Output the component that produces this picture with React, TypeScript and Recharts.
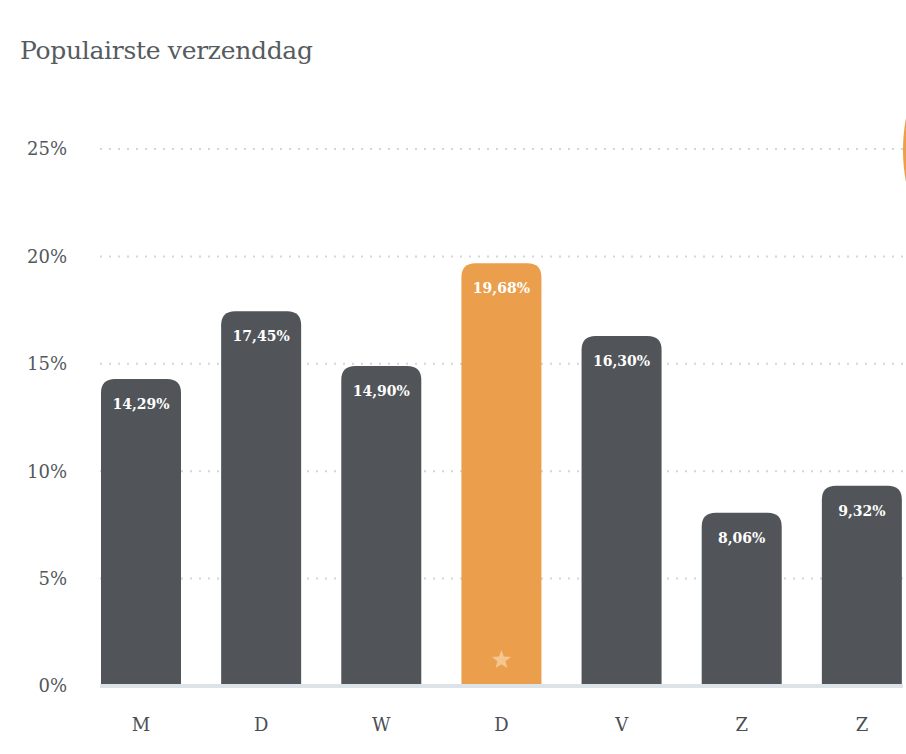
import React from "react";
import { BarChart, Bar, XAxis, YAxis, CartesianGrid, LabelList } from "recharts";

const days = ["M", "D", "W", "D", "V", "Z", "Z"];
const shares = [14.29, 17.45, 14.9, 19.68, 16.3, 8.06, 9.32];
const highlighted = [false, false, false, true, false, false, false];
const yTicks = [0, 5, 10, 15, 20, 25];

const data = days.map((d, i) => ({ day: d, value: shares[i], hl: highlighted[i] }));

const FONT = "'DejaVu Serif', 'Liberation Serif', serif";
const DARK = "#515559";
const ORANGE = "#eb9f4c";

const starPoints = (cx: number, cy: number, ro: number, ri: number) => {
  const pts: string[] = [];
  for (let k = 0; k < 10; k++) {
    const r = k % 2 === 0 ? ro : ri;
    const a = -Math.PI / 2 + (k * Math.PI) / 5;
    pts.push(`${cx + r * Math.cos(a)},${cy + r * Math.sin(a)}`);
  }
  return pts.join(" ");
};

const BarShape = (props: any) => {
  const { x, y, width, height, payload } = props;
  const r = Math.min(14, height);
  const path = `M${x},${y + height} L${x},${y + r} Q${x},${y} ${x + r},${y} L${x + width - r},${y} Q${x + width},${y} ${x + width},${y + r} L${x + width},${y + height} Z`;
  const fill = payload && payload.hl ? ORANGE : DARK;
  return (
    <g>
      <path d={path} fill={fill} />
      {payload && payload.hl ? (
        <polygon points={starPoints(x + width / 2, y + height - 26, 10, 4.2)} fill="#f6c690" />
      ) : null}
    </g>
  );
};

const fmt = (v: any) => `${Number(v).toFixed(2).replace(".", ",")}%`;

export default function App() {
  return (
    <div style={{ position: "absolute", left: 0, top: 0, width: 906, height: 754, overflow: "hidden", background: "#fff" }}>
      <div
        style={{
          position: "absolute",
          left: 20,
          top: 37,
          fontFamily: FONT,
          fontSize: 25,
          lineHeight: "28px",
          color: "#565b60",
          letterSpacing: -0.3,
        }}
      >
        Populairste verzenddag
      </div>
      <div
        style={{
          position: "absolute",
          left: 903,
          top: 65,
          width: 80,
          height: 170,
          borderRadius: "50%",
          background: ORANGE,
        }}
      />
      <BarChart
        width={906}
        height={754}
        data={data}
        margin={{ top: 149, right: 3, bottom: 0, left: 0 }}
      >
        <CartesianGrid
          vertical={false}
          stroke="#d4d6d8"
          strokeWidth={2}
          strokeDasharray="2 7"
          horizontalValues={[5, 10, 15, 20, 25]}
        />
        <YAxis
          width={100}
          domain={[0, 25]}
          ticks={yTicks}
          tickFormatter={(v: number) => `${v}%`}
          axisLine={false}
          tickLine={false}
          tickSize={0}
          tickMargin={33}
          tick={{ fontFamily: FONT, fontSize: 18, fill: "#53585c" }}
        />
        <XAxis
          dataKey="day"
          height={68}
          padding={{ left: -19, right: -19 }}
          axisLine={{ stroke: "#dce4ea", strokeWidth: 4 }}
          tickLine={false}
          tickSize={0}
          tickMargin={32}
          tick={{ fontFamily: FONT, fontSize: 18, fill: "#4a4f55" }}
        />
        <Bar dataKey="value" barSize={80} shape={<BarShape />} isAnimationActive={false}>
          <LabelList
            dataKey="value"
            position="insideTop"
            offset={20}
            formatter={fmt}
            style={{ fontFamily: FONT, fontSize: 14, fontWeight: 600, fill: "#ffffff" }}
          />
        </Bar>
      </BarChart>
    </div>
  );
}
